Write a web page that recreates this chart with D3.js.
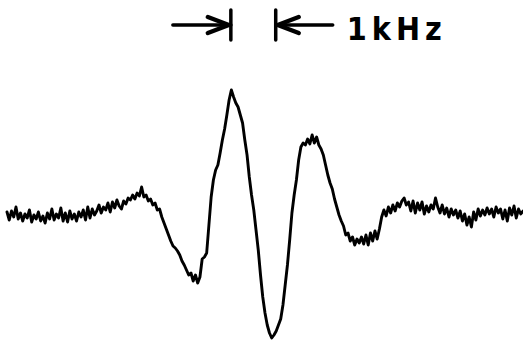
<!DOCTYPE html>
<html><head><meta charset="utf-8">
<script src="https://cdn.jsdelivr.net/npm/d3@7"></script>
<style>body{margin:0;background:#fff}svg{display:block}</style>
</head><body>
<svg id="c" width="523" height="342"></svg>
<script>
// Frequency axis (kHz) of the recorded trace
const freqStart = 0;
const freqStep = 0.05;
// Signal amplitude (arbitrary units), one value per frequency step
const signalRow0  = [3, -5, 4, -2, 8, -4, 2, -6, 1, -3, 5, -7, 0, -4, 3, -6, -1, -8, 2, -4];
const signalRow1  = [6, -5, 1, -3, 7, -6, 2, -7, 4, -4, 1, -6, 3, -2, 5, -5, 8, -3, 6, 0];
const signalRow2  = [4, 10, 2, 8, 5, 12, 3, 13, 7, 15, 9, 6, 14, 11, 17, 15, 20, 16, 22, 19];
const signalRow3  = [28, 18, 20, 14, 16, 10, 12, 5, 6, -2, -8, -14, -20, -26, -31, -33, -36, -40, -46, -50];
const signalRow4  = [-55, -60, -58, -66, -60, -68, -62, -44, -42, -38, -10, 18, 35, 45, 50, 62, 75, 86, 100, 115];
const signalRow5  = [125, 118, 112, 108, 100, 92, 75, 60, 38, 20, 5, -15, -35, -60, -82, -98, -110, -118, -123, -120];
const signalRow6  = [-116, -110, -104, -90, -70, -50, -25, 2, 20, 35, 55, 68, 72, 70, 76, 71, 80, 72, 78, 70];
const signalRow7  = [66, 60, 50, 40, 32, 26, 16, 8, 0, -6, -11, -20, -18, -26, -22, -30, -24, -28, -22, -29];
const signalRow8  = [-20, -30, -18, -26, -16, -24, -14, -2, 5, -1, 8, 2, 10, 4, 12, 8, 14, 17, 10, 13];
const signalRow9  = [4, 14, 2, 12, 5, 13, 1, 9, 3, 10, 6, 17, 8, 2, 10, 1, 7, -2, 6, 0];
const signalRow10 = [5, -3, 4, -6, 1, -10, -2, -12, 3, -5, 6, -1, 5, 0, 7, 1, 6, -2, 8, 2];
const signalRow11 = [6, -4, 5, -6, 7, 0, 9, -3, 6, 1, 4];
// Scale marker
const markerKHz = [5, 6];
const markerLabel = "1kHz";

const signal = [].concat(signalRow0, signalRow1, signalRow2, signalRow3, signalRow4, signalRow5,
  signalRow6, signalRow7, signalRow8, signalRow9, signalRow10, signalRow11);
const data = signal.map((v, i) => ({f: freqStart + i * freqStep, v}));

const svg = d3.select("#c");
const x = d3.scaleLinear().domain([0, 11.5]).range([7, 523]);
const y = d3.scaleLinear().domain([-128, 128]).range([343, 87]);

svg.append("path")
  .datum(data)
  .attr("fill", "none")
  .attr("stroke", "#000")
  .attr("stroke-width", 2.9)
  .attr("stroke-linejoin", "round")
  .attr("stroke-linecap", "round")
  .attr("d", d3.line().x(d => x(d.f)).y(d => y(d.v)));

// 1 kHz marker
const g = svg.append("g").attr("stroke", "#000").attr("stroke-width", 3.5)
  .attr("stroke-linecap", "round").attr("stroke-linejoin", "round").attr("fill", "none");
const xa = x(markerKHz[0]) - 0.5, xb = x(markerKHz[1]) - 0.5;
const yTop = 10, yBot = 40, yMid = 25;
g.append("line").attr("x1", xa).attr("x2", xa).attr("y1", yTop).attr("y2", yBot);
g.append("line").attr("x1", xb).attr("x2", xb).attr("y1", yTop).attr("y2", yBot);
// left arrow pointing right
g.append("line").attr("x1", xa - 58).attr("x2", xa).attr("y1", yMid).attr("y2", yMid);
g.append("polyline").attr("stroke-width", 4.5).attr("points", `${xa-23},${yMid-8} ${xa-2},${yMid} ${xa-23},${yMid+8}`);
// right arrow pointing left
g.append("line").attr("x1", xb).attr("x2", xb + 57).attr("y1", yMid).attr("y2", yMid);
g.append("polyline").attr("stroke-width", 4.5).attr("points", `${xb+23},${yMid-8} ${xb+2},${yMid} ${xb+23},${yMid+8}`);

svg.append("text")
  .attr("x", xb + 71)
  .attr("y", 40)
  .attr("font-family", "'DejaVu Sans Condensed', 'DejaVu Sans', sans-serif")
  .attr("font-weight", "bold")
  .attr("font-size", 32)
  .attr("letter-spacing", 5)
  .attr("fill", "#000")
  .text(markerLabel);
</script>
</body></html>
